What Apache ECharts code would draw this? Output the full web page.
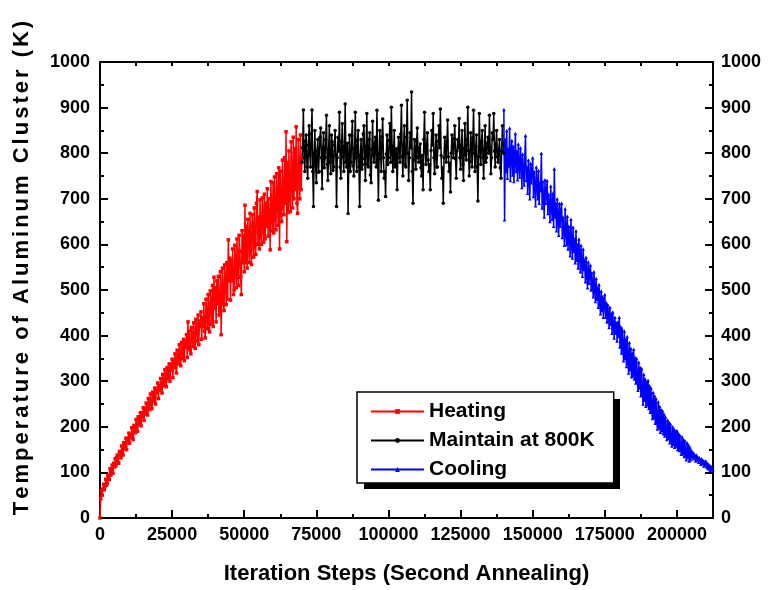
<!DOCTYPE html>
<html>
<head>
<meta charset="utf-8">
<script src="https://cdn.jsdelivr.net/npm/echarts@6/dist/echarts.min.js"></script>
<style>
html,body{margin:0;padding:0;background:#fff;}
#c{width:768px;height:590px;}
</style>
</head>
<body>
<div id="c"></div>
<script>
// ---- data ----
var seriesNames = ['Heating', 'Maintain at 800K', 'Cooling'];
var stepSize = 250;
var heatingStart = 0;
var maintainStart = 70000;
var coolingStart = 140000;

var heatingTemp = [0,42,60,50,64,74,62,70,85,72,76,94,88,84,108,94,100,116,98,120,112,
130,114,132,138,122,120,146,141,132,158,146,138,165,162,152,175,150,175,170,186,
164,183,176,198,180,172,203,199,187,216,200,190,222,218,205,231,202,230,222,242,
214,238,228,252,232,226,262,250,238,272,250,240,276,270,256,285,250,282,275,296,
262,290,280,306,285,274,315,302,290,325,300,288,330,320,306,338,300,332,325,348,
308,342,330,360,330,318,368,352,338,380,350,334,385,372,350,392,345,388,375,402,
352,430,372,410,368,360,418,400,376,428,385,372,436,418,388,445,380,432,420,452,
392,440,420,470,410,395,480,445,415,490,430,408,498,470,425,510,420,528,460,505,
430,520,470,530,445,455,540,402,500,548,470,455,555,520,468,560,480,610,520,570,
478,565,520,590,490,500,598,555,505,612,530,510,620,585,528,490,630,560,620,540,
686,560,640,548,655,612,560,668,590,556,665,640,572,680,600,578,690,716,600,660,
590,698,625,600,702,660,605,710,612,690,640,722,618,700,655,588,738,660,630,735,
625,748,660,632,755,700,642,768,590,760,680,650,785,700,665,790,690,847,606,780,
670,805,700,672,825,740,680,835,700,810,720,858,690,668,830,760,700,840,720,790];

var maintainTemp = [780,812,895,790,760,826,840,770,745,818,860,795,770,842,895,760,683,800,850,772,
735,805,830,758,760,835,855,790,722,812,845,768,790,830,883,775,740,808,860,780,
755,840,825,762,770,818,850,795,683,790,835,805,890,770,745,826,865,792,760,815,
908,780,770,822,668,785,840,760,780,838,870,772,750,810,890,790,760,828,850,770,
683,795,830,765,775,842,860,788,740,815,887,776,770,830,845,752,735,808,870,795,
780,822,835,770,894,800,697,788,850,812,760,836,875,790,745,760,705,798,840,775,
790,828,865,780,901,815,760,795,850,770,775,810,720,790,835,815,780,842,905,792,
750,818,860,776,770,835,916,800,740,790,845,812,934,760,690,785,830,808,765,826,
855,790,780,812,820,768,750,795,720,830,890,802,775,820,845,785,760,775,720,806,
850,818,887,790,755,805,840,770,770,826,860,812,897,795,745,768,690,790,835,812,
780,826,873,792,760,778,715,800,840,815,790,832,860,788,745,805,830,812,876,790,
765,818,850,775,740,810,865,796,785,830,901,806,750,782,845,818,770,834,894,800,
760,815,840,770,695,792,887,810,775,826,850,790,745,808,860,780,790,822,835,800,
883,812,755,790,845,830,887,805,770,820,850,792,780,810,830,768,745,805,860,820,800];

var coolingTemp = [896,654,830,760,850,745,810,772,855,740,800,828,752,815,738,790,843,760,805,742,
820,770,748,812,780,725,798,760,730,790,839,740,770,712,785,745,700,778,735,760,
790,705,760,722,685,770,730,700,762,690,735,718,800,680,738,700,660,742,690,715,
740,668,710,685,650,728,680,655,712,640,766,660,690,630,700,655,620,690,640,672,
690,615,660,632,598,678,625,600,662,590,640,618,575,655,600,570,638,585,612,560,
630,565,600,548,612,575,540,598,555,530,590,545,565,518,572,530,505,562,515,540,
555,500,538,510,485,540,498,475,525,480,505,462,512,470,448,498,455,485,440,478,
490,440,472,430,468,445,418,462,425,448,405,452,420,395,440,405,428,388,430,398,
440,375,420,362,415,372,345,410,350,392,332,398,345,318,385,325,372,310,362,312,
370,305,352,296,350,302,280,342,285,330,268,328,272,250,315,258,305,245,298,248,
302,240,290,232,285,236,218,276,220,268,208,262,210,195,255,198,245,188,238,192,
235,185,228,180,222,186,172,215,175,210,165,206,170,158,200,162,195,155,190,158,
192,150,186,148,182,152,140,178,142,172,135,170,138,128,165,132,160,125,155,128,
148,134,144,130,141,135,125,138,128,134,122,132,126,118,130,120,127,114,124,116,
125,112,120,108,118,110,104,114,106,112,104];

var xMin = 0, xMax = 212500, xInterval = 25000, xMinorInterval = 12500;
var yMin = 0, yMax = 1000, yInterval = 100;
var xTitle = 'Iteration Steps (Second Annealing)';
var yTitle = 'Temperature of Aluminum Cluster (K)';

function toPairs(start, arr) {
  return arr.map(function (v, i) { return [start + i * stepSize, v]; });
}
function plain(v) { return String(v); }

var FONT = '"Liberation Sans", Arial, sans-serif';
var chart = echarts.init(document.getElementById('c'), null, {renderer: 'canvas'});

var axisLineStyle = {color: '#000', width: 2};
var labelStyle = {color: '#000', fontSize: 18, fontWeight: 'bold', fontFamily: FONT, formatter: plain};

var richTitle = yTitle.split('').map(function (ch) { return '{s|' + ch + '}'; }).join('');

var option = {
  animation: false,
  backgroundColor: '#fff',
  grid: {left: 100, right: 55, top: 62, bottom: 71, containLabel: false},
  legend: {
    left: 357, top: 392, z: 20,
    orient: 'vertical',
    data: seriesNames,
    itemWidth: 53, itemHeight: 6, itemGap: 8,
    padding: [9, 19, 3, 13],
    backgroundColor: '#fff',
    borderColor: '#000', borderWidth: 1.5,
    textStyle: {color: '#000', fontSize: 21, fontWeight: 'bold', fontFamily: FONT}
  },
  xAxis: [
    {
      type: 'value', position: 'bottom', min: xMin, max: xMax, interval: xInterval,
      axisLine: {show: true, onZero: false, lineStyle: axisLineStyle},
      axisTick: {show: true, inside: true, length: 8, lineStyle: {color: '#000', width: 2}},
      minorTick: {show: false},
      splitLine: {show: false},
      axisLabel: Object.assign({margin: 8, showMaxLabel: false}, labelStyle),
      name: xTitle, nameLocation: 'middle', nameGap: 45,
      nameTextStyle: {color: '#000', fontSize: 22, fontWeight: 'bold', fontFamily: FONT}
    },
    {
      type: 'value', position: 'bottom', min: xMin, max: xMax, interval: xMinorInterval,
      axisLine: {show: false, onZero: false},
      axisTick: {show: true, inside: true, length: 4, lineStyle: {color: '#000', width: 2}},
      axisLabel: {show: false}, splitLine: {show: false}
    },
    {
      type: 'value', position: 'top', min: xMin, max: xMax, interval: xMinorInterval,
      axisLine: {show: true, onZero: false, lineStyle: axisLineStyle},
      axisTick: {show: true, inside: true, length: 4, lineStyle: {color: '#000', width: 2}},
      axisLabel: {show: false}, splitLine: {show: false}
    }
  ],
  yAxis: [
    {
      type: 'value', position: 'left', min: yMin, max: yMax, interval: yInterval,
      axisLine: {show: true, onZero: false, lineStyle: axisLineStyle},
      axisTick: {show: true, inside: true, length: 8, lineStyle: {color: '#000', width: 2}},
      minorTick: {show: true, splitNumber: 2, length: 4, lineStyle: {color: '#000', width: 2}},
      splitLine: {show: false},
      axisLabel: Object.assign({margin: 10}, labelStyle)
    },
    {
      type: 'value', position: 'right', min: yMin, max: yMax, interval: yInterval,
      axisLine: {show: true, onZero: false, lineStyle: axisLineStyle},
      axisTick: {show: true, inside: true, length: 8, lineStyle: {color: '#000', width: 2}},
      minorTick: {show: true, splitNumber: 2, length: 4, lineStyle: {color: '#000', width: 2}},
      splitLine: {show: false},
      axisLabel: Object.assign({margin: 8}, labelStyle)
    }
  ],
  graphic: [
    {
      type: 'rect', z: 15, shape: {x: 364, y: 399, width: 256, height: 90},
      style: {fill: '#000'}
    },
    {
      type: 'text', x: 22, y: 268, rotation: Math.PI / 2,
      style: {
        text: richTitle,
        rich: {s: {fontSize: 22, fontWeight: 'bold', fontFamily: FONT, fill: '#000', padding: [0, 1.5]}},
        fill: '#000', align: 'center', verticalAlign: 'middle'
      }
    }
  ],
  series: [
    {
      name: seriesNames[0], type: 'line', xAxisIndex: 0, yAxisIndex: 0,
      data: toPairs(heatingStart, heatingTemp),
      symbol: 'rect', symbolSize: 3.5, showSymbol: true,
      itemStyle: {color: '#ff0000'}, lineStyle: {color: '#ff0000', width: 1.5}
    },
    {
      name: seriesNames[1], type: 'line', xAxisIndex: 0, yAxisIndex: 0,
      data: toPairs(maintainStart, maintainTemp),
      symbol: 'circle', symbolSize: 3.5, showSymbol: true,
      itemStyle: {color: '#000000'}, lineStyle: {color: '#000000', width: 1.5}
    },
    {
      name: seriesNames[2], type: 'line', xAxisIndex: 0, yAxisIndex: 0,
      data: toPairs(coolingStart, coolingTemp),
      symbol: 'triangle', symbolSize: 3.5, showSymbol: true,
      itemStyle: {color: '#0000ff'}, lineStyle: {color: '#0000ff', width: 1.5}
    }
  ]
};
chart.setOption(option);
</script>
</body>
</html>
